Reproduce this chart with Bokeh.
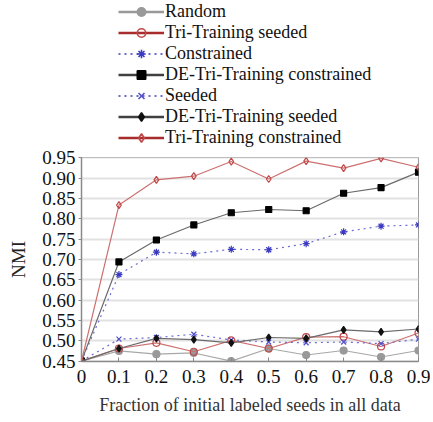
from bokeh.plotting import figure
from bokeh.layouts import column
from bokeh.models import (ColumnDataSource, Legend, LegendItem, FixedTicker, Range1d)
from bokeh.embed import file_html
from bokeh.resources import INLINE

# ---- data ----
x_vals = [0.0, 0.1, 0.2, 0.3, 0.4, 0.5, 0.6, 0.7, 0.8, 0.9]
x_tick_labels = ["0", "0.1", "0.2", "0.3", "0.4", "0.5", "0.6", "0.7", "0.8", "0.9"]
y_ticks = [0.45, 0.50, 0.55, 0.60, 0.65, 0.70, 0.75, 0.80, 0.85, 0.90, 0.95]
y_tick_labels = ["0.45", "0.50", "0.55", "0.60", "0.65", "0.70", "0.75",
                 "0.80", "0.85", "0.90", "0.95"]

random_nmi = [0.450, 0.475, 0.467, 0.470, 0.450, 0.481, 0.465, 0.476, 0.460, 0.476]
tri_seeded = [0.450, 0.481, 0.495, 0.473, 0.501, 0.481, 0.509, 0.510, 0.486, 0.519]
constrained = [0.450, 0.663, 0.718, 0.714, 0.725, 0.724, 0.739, 0.768, 0.782, 0.785]
de_constrained = [0.450, 0.694, 0.748, 0.785, 0.815, 0.823, 0.820, 0.863, 0.877, 0.915]
seeded = [0.450, 0.504, 0.508, 0.516, 0.502, 0.497, 0.495, 0.497, 0.493, 0.504]
de_seeded = [0.450, 0.481, 0.506, 0.503, 0.495, 0.508, 0.506, 0.527, 0.522, 0.529]
tri_constrained = [0.450, 0.834, 0.896, 0.905, 0.941, 0.898, 0.942, 0.925, 0.949, 0.927]

series_labels = ["Random", "Tri-Training seeded", "Constrained",
                 "DE-Tri-Training constrained", "Seeded",
                 "DE-Tri-Training seeded", "Tri-Training constrained"]
series_values = [random_nmi, tri_seeded, constrained, de_constrained,
                 seeded, de_seeded, tri_constrained]

# style per series: (line color, dash, marker, marker fill, marker line, legend line color)
styles = [
    ("#a8a8a8", "solid", "circle", "#999999", "#999999", "#999999"),
    ("#cc7070", "solid", "circle", None, "#c04848", "#a82c2c"),
    ("#6a6ad8", "2 4", "asterisk", None, "#3a3ac0", "#3a3ac0"),
    ("#6a6a6a", "solid", "square", "#000000", "#000000", "#404040"),
    ("#6a6ad8", "2 4", "x", None, "#5050c8", "#3a3ac0"),
    ("#6a6a6a", "solid", "diamond", "#111111", "#111111", "#404040"),
    ("#cc7070", "solid", "diamond", None, "#c04848", "#a82c2c"),
]

FONT = "'Liberation Serif', 'Times New Roman', serif"

# top strip holding the legend (its ranges lie away from the data, so only
# the legend of these renderers is visible)
p_leg = figure(width=430, height=148, output_backend="svg", toolbar_location=None,
               x_range=Range1d(10, 11), y_range=Range1d(10, 11),
               x_axis_location=None, y_axis_location=None,
               min_border_left=81, min_border_right=12, min_border_top=0,
               min_border_bottom=0)
p_leg.grid.grid_line_color = None
p_leg.outline_line_color = None

# main chart
p = figure(width=430, height=272, output_backend="svg", toolbar_location=None,
           x_range=Range1d(0, 0.9), y_range=Range1d(0.449, 0.951),
           min_border_left=81, min_border_right=12, min_border_top=9,
           min_border_bottom=59)

legend_items = []
for label, vals, st in zip(series_labels, series_values, styles):
    lc, dash, marker, mfill, mline, leg_lc = st
    src = ColumnDataSource(data=dict(x=x_vals, y=vals))
    p.line("x", "y", source=src, line_color=lc, line_width=1.2, line_dash=dash)
    p.scatter("x", "y", source=src, marker=marker,
              size=6 if marker == "square" else 7,
              fill_color=mfill, line_color=mline, line_width=1.2)
    # legend renderers with heavier styling
    lr = p_leg.line("x", "y", source=src, line_color=leg_lc,
                    line_width=2.6 if dash == "solid" else 1.6, line_dash=dash)
    sr = p_leg.scatter("x", "y", source=src, marker=marker, size=11,
                       fill_color=mfill, line_color=mline, line_width=1.6)
    legend_items.append(LegendItem(label=label, renderers=[lr, sr]))

legend = Legend(items=legend_items, location=(37, 0),
                label_text_font=FONT, label_text_font_size="18px",
                label_text_color="#111111", glyph_width=46, glyph_height=21,
                label_height=21, label_standoff=1, spacing=0, padding=0,
                margin=0, border_line_color=None, background_fill_alpha=0)
p_leg.add_layout(legend, "center")

# axes
p.xaxis.ticker = FixedTicker(ticks=x_vals)
p.xaxis.major_label_overrides = {v: t for v, t in zip(x_vals, x_tick_labels)}
p.yaxis.ticker = FixedTicker(ticks=y_ticks)
p.yaxis.major_label_overrides = {v: t for v, t in zip(y_ticks, y_tick_labels)}

for ax in (p.xaxis[0], p.yaxis[0]):
    ax.major_label_text_font = FONT
    ax.major_label_text_font_size = "19px"
    ax.major_label_text_color = "#111111"
    ax.axis_label_text_font = FONT
    ax.axis_label_text_font_style = "normal"
    ax.axis_line_color = "#8a8a8a"
    ax.axis_line_width = 1.5
    ax.major_tick_line_color = "#8a8a8a"
    ax.minor_tick_line_color = None

p.xaxis.axis_label = "Fraction of initial labeled seeds in all data"
p.xaxis.axis_label_text_font_size = "18px"
p.xaxis.axis_label_text_color = "#333333"
p.xaxis.major_tick_in = 4
p.xaxis.major_tick_out = 0
p.xaxis.major_label_standoff = 8
p.xaxis.axis_label_standoff = 9

p.yaxis.axis_label = "NMI"
p.yaxis.axis_label_text_font_size = "19px"
p.yaxis.axis_label_text_color = "#222222"
p.yaxis.major_tick_in = 0
p.yaxis.major_tick_out = 3
p.yaxis.major_label_standoff = 3
p.yaxis.axis_label_standoff = 10

p.xgrid.grid_line_color = None
p.ygrid.grid_line_color = "#e2e2e2"
p.ygrid.grid_line_width = 2
p.outline_line_color = "#9a9a9a"
p.outline_line_width = 1
p.background_fill_color = "white"
p.border_fill_color = "white"

layout = column(p_leg, p, spacing=0)
open("out.html", "w").write(file_html(layout, INLINE))
